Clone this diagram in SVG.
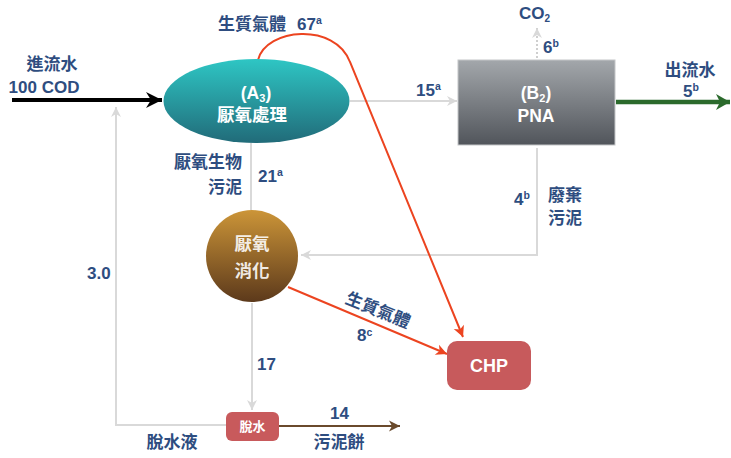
<svg xmlns="http://www.w3.org/2000/svg" width="731" height="458" viewBox="0 0 731 458">
<defs>
<style>
.t{font-family:"Liberation Sans","Noto Sans CJK TC",sans-serif;font-weight:bold;fill:#2e4d80;font-size:17px}
.w{font-family:"Liberation Sans","Noto Sans CJK TC",sans-serif;font-weight:bold;fill:#ffffff;font-size:17.5px}
.sup{font-size:10.5px}
.g{fill:none;stroke:#d9d9d9;stroke-width:2}
.r{fill:none;stroke:#ec4420;stroke-width:2}
</style>
<linearGradient id="gA" x1="0" y1="0" x2="0" y2="1">
<stop offset="0" stop-color="#2ec6c4"/><stop offset="1" stop-color="#216b79"/>
</linearGradient>
<linearGradient id="gB" x1="0" y1="0" x2="0" y2="1">
<stop offset="0" stop-color="#a3a7ab"/><stop offset="1" stop-color="#51555b"/>
</linearGradient>
<linearGradient id="gD" x1="0" y1="0" x2="0" y2="1">
<stop offset="0" stop-color="#cc9538"/><stop offset="1" stop-color="#5c391b"/>
</linearGradient>
<marker id="mBlk" markerUnits="userSpaceOnUse" markerWidth="20" markerHeight="20" refX="18" refY="10" orient="auto">
<path d="M2,2 L18,10 L2,18 L7,10 Z" fill="#000"/>
</marker>
<marker id="mGrn" markerUnits="userSpaceOnUse" markerWidth="20" markerHeight="20" refX="18" refY="10" orient="auto">
<path d="M4,2 L18,10 L4,18 L8,10 Z" fill="#2b6a2c"/>
</marker>
<marker id="mGry" markerUnits="userSpaceOnUse" markerWidth="14" markerHeight="14" refX="12" refY="7" orient="auto">
<path d="M2,2 L12,7 L2,12 L5,7 Z" fill="#d9d9d9"/>
</marker>
<marker id="mRed" markerUnits="userSpaceOnUse" markerWidth="14" markerHeight="14" refX="12" refY="7" orient="auto">
<path d="M1,1.5 L12,7 L1,12.5 L4,7 Z" fill="#ec4420"/>
</marker>
<marker id="mBrn" markerUnits="userSpaceOnUse" markerWidth="14" markerHeight="14" refX="12" refY="7" orient="auto">
<path d="M1,1.5 L12,7 L1,12.5 L4,7 Z" fill="#6a4a2c"/>
</marker>
</defs>
<rect width="731" height="458" fill="#ffffff"/>

<g id="connectors">
<line x1="12" y1="100" x2="162" y2="100" stroke="#000" stroke-width="4" marker-end="url(#mBlk)"/>
<line x1="350" y1="101" x2="457" y2="101" class="g" marker-end="url(#mGry)"/>
<line x1="616" y1="102" x2="730" y2="102" stroke="#2b6a2c" stroke-width="4.5" marker-end="url(#mGrn)"/>
<line x1="537" y1="58" x2="537" y2="28" stroke="#cfcfcf" stroke-width="2" stroke-dasharray="2,2" marker-end="url(#mGry)"/>
<polyline points="537,148 537,255 301,255" class="g" marker-end="url(#mGry)"/>
<line x1="251" y1="143" x2="251" y2="210" class="g"/>
<line x1="252" y1="303" x2="252" y2="410" class="g" marker-end="url(#mGry)"/>
<polyline points="226,425 116,425 116,107" class="g" marker-end="url(#mGry)"/>
<line x1="279" y1="426" x2="400" y2="426" stroke="#6a4a2c" stroke-width="2" marker-end="url(#mBrn)"/>
<path d="M258,60 C266,28 335,22 350,62 L463,337" class="r" marker-end="url(#mRed)"/>
<line x1="288" y1="287" x2="447" y2="354" class="r" marker-end="url(#mRed)"/>
</g>

<g id="nodeA3">
<ellipse cx="256.5" cy="101" rx="93" ry="42" fill="url(#gA)"/>
<text x="256" y="99" class="w" text-anchor="middle">(A<tspan font-size="11" dy="3">3</tspan><tspan dy="-3">)</tspan></text>
<text x="252" y="121" class="w" text-anchor="middle">厭氧處理</text>
</g>

<g id="nodeB2">
<rect x="458" y="60" width="157" height="85" fill="url(#gB)" stroke="#c4c6c8" stroke-width="1"/>
<text x="536" y="99" class="w" text-anchor="middle">(B<tspan font-size="11" dy="3">2</tspan><tspan dy="-3">)</tspan></text>
<text x="536" y="122" class="w" text-anchor="middle">PNA</text>
</g>

<g id="nodeDigester">
<circle cx="252" cy="256" r="46" fill="url(#gD)"/>
<text x="252" y="250" class="w" text-anchor="middle" fill-opacity="0.9">厭氧</text>
<text x="252" y="277" class="w" text-anchor="middle" fill-opacity="0.9">消化</text>
</g>

<g id="nodeDewater">
<rect x="226" y="412" width="53" height="29" rx="6" fill="#c85a5c"/>
<text x="252.5" y="431" class="w" text-anchor="middle" style="font-size:13px">脫水</text>
</g>

<g id="nodeCHP">
<rect x="447" y="341" width="84" height="49" rx="10" fill="#c75a5c"/>
<text x="489" y="372" class="w" text-anchor="middle" style="font-size:18px">CHP</text>
</g>

<g id="labels">
<text x="52" y="70" class="t" text-anchor="middle">進流水</text>
<text x="44" y="93" class="t" text-anchor="middle">100 COD</text>
<text x="252" y="30" class="t" text-anchor="middle">生質氣體</text>
<text x="297" y="30" class="t">67<tspan class="sup" dy="-6">a</tspan></text>
<text x="242" y="168" class="t" text-anchor="end">厭氧生物</text>
<text x="242" y="193" class="t" text-anchor="end">污泥</text>
<text x="258" y="182" class="t">21<tspan class="sup" dy="-6">a</tspan></text>
<text x="416" y="96" class="t">15<tspan class="sup" dy="-6">a</tspan></text>
<text x="519" y="19" class="t">CO<tspan font-size="10" dy="3">2</tspan></text>
<text x="543" y="53" class="t">6<tspan class="sup" dy="-6">b</tspan></text>
<text x="690" y="76" class="t" text-anchor="middle">出流水</text>
<text x="683" y="97" class="t">5<tspan class="sup" dy="-6">b</tspan></text>
<text x="514" y="205" class="t">4<tspan class="sup" dy="-6">b</tspan></text>
<text x="548" y="201" class="t">廢棄</text>
<text x="548" y="224" class="t">污泥</text>
<text x="87" y="279" class="t">3.0</text>
<text x="257" y="370" class="t">17</text>
<text x="330" y="419" class="t">14</text>
<text x="172" y="448" class="t" text-anchor="middle">脫水液</text>
<text x="339" y="448" class="t" text-anchor="middle">污泥餅</text>
<text x="378" y="316" class="t" text-anchor="middle" transform="rotate(22 378 310)">生質氣體</text>
<text x="357" y="341" class="t">8<tspan class="sup" dy="-5">c</tspan></text>
</g>
</svg>
